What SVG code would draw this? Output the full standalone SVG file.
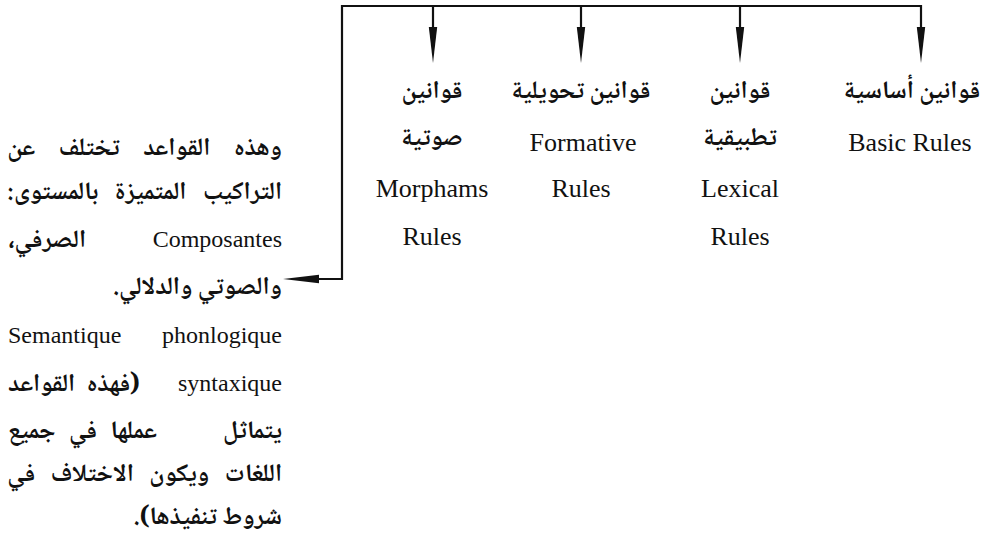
<svg xmlns="http://www.w3.org/2000/svg" width="990" height="543" viewBox="0 0 990 543">
  <style>
    .ar { font-family: "Noto Naskh Arabic", "Noto Sans Arabic", "DejaVu Sans", sans-serif; font-weight: bold; font-size: 25px; fill: #111; }
    .lat { font-family: "Liberation Serif", "Times New Roman", serif; font-size: 24px; fill: #111; }
    .big { font-size: 26px; }
    .col { text-anchor: middle; }
    .wire { fill: none; stroke: #111; stroke-width: 2.2; }
  </style>
  <defs>
    <marker id="head" viewBox="0 0 36 10" refX="0" refY="5" markerWidth="36" markerHeight="10" markerUnits="userSpaceOnUse" orient="auto">
      <path d="M0,0.8 L36,5 L0,9.2 z" fill="#111"/>
    </marker>
  </defs>

  <rect width="990" height="543" fill="#fff"/>

  <!-- connectors: top bus with four drops, and the return branch to the note -->
  <g id="connectors">
    <path class="wire" d="M342,6 H921"/>
    <path class="wire" d="M433,6 V27" marker-end="url(#head)"/>
    <path class="wire" d="M581,6 V27" marker-end="url(#head)"/>
    <path class="wire" d="M740,6 V27" marker-end="url(#head)"/>
    <path class="wire" d="M921,5 V27" marker-end="url(#head)"/>
    <path class="wire" d="M342,5 V279 H319" marker-end="url(#head)"/>
  </g>

  <g id="basic-rules">
    <text class="ar col" x="912" y="98" direction="rtl">قوانين أساسية</text>
    <text class="lat big col" x="910" y="151">Basic Rules</text>
  </g>

  <g id="lexical-rules">
    <text class="ar col" x="740" y="98" direction="rtl">قوانين</text>
    <text class="ar col" x="740" y="145" direction="rtl">تطبيقية</text>
    <text class="lat big col" x="740" y="197">Lexical</text>
    <text class="lat big col" x="740" y="245">Rules</text>
  </g>

  <g id="formative-rules">
    <text class="ar col" x="581" y="98" direction="rtl">قوانين تحويلية</text>
    <text class="lat big col" x="583" y="151">Formative</text>
    <text class="lat big col" x="581" y="197">Rules</text>
  </g>

  <g id="morphams-rules">
    <text class="ar col" x="432" y="98" direction="rtl">قوانين</text>
    <text class="ar col" x="432" y="145" direction="rtl">صوتية</text>
    <text class="lat big col" x="432" y="197">Morphams</text>
    <text class="lat big col" x="432" y="245">Rules</text>
  </g>

  <!-- explanatory note, justified right-to-left block between x=8 and x=282 -->
  <g id="note">
    <text class="ar" x="282" y="155" direction="rtl" style="word-spacing:18px">وهذه القواعد تختلف عن</text>
    <text class="ar" x="282" y="199" direction="rtl" style="word-spacing:11px">التراكيب المتميزة بالمستوى:</text>
    <text class="lat" x="282" y="247" text-anchor="end">Composantes</text>
    <text class="ar" x="8" y="247" direction="rtl" text-anchor="end">الصرفي،</text>
    <text class="ar" x="282" y="294" direction="rtl">والصوتي والدلالي.</text>
    <text class="lat" x="8" y="343">Semantique</text>
    <text class="lat" x="282" y="343" text-anchor="end">phonlogique</text>
    <text class="lat" x="282" y="391" text-anchor="end">syntaxique</text>
    <text class="ar" x="8" y="391" direction="rtl" text-anchor="end" style="word-spacing:6px">(فهذه القواعد</text>
    <text class="ar" x="282" y="438" direction="rtl">يتماثل</text>
    <text class="ar" x="8" y="438" direction="rtl" text-anchor="end" style="word-spacing:8px">عملها في جميع</text>
    <text class="ar" x="282" y="481" direction="rtl" style="word-spacing:10px">اللغات ويكون الاختلاف في</text>
    <text class="ar" x="282" y="524" direction="rtl">شروط تنفيذها).</text>
  </g>
</svg>
